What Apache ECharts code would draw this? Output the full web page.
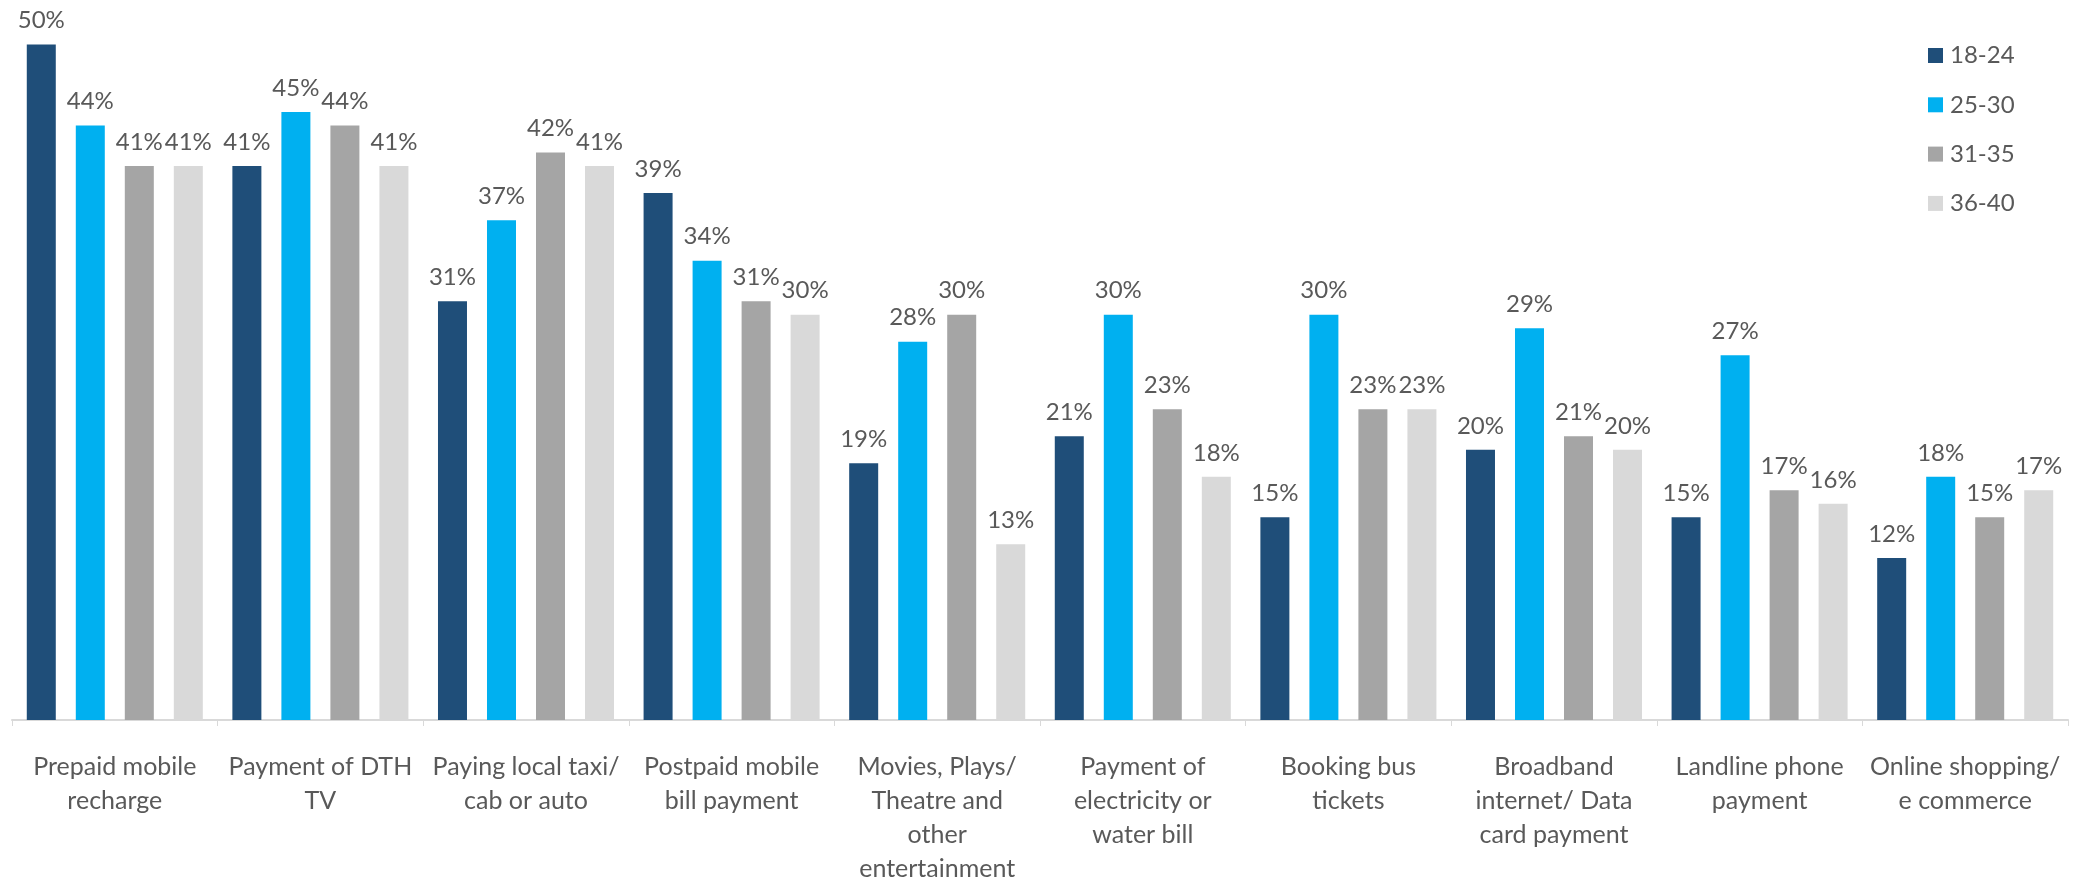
<!DOCTYPE html>
<html>
<head>
<meta charset="utf-8">
<script src="https://cdn.jsdelivr.net/npm/echarts@6/dist/echarts.min.js"></script>
<style>
html,body{margin:0;padding:0;background:#fff;}
#c{width:2087px;height:886px;}
</style>
</head>
<body>
<div id="c"></div>
<script>
const categories = [
  "Prepaid mobile\nrecharge",
  "Payment of DTH\nTV",
  "Paying local taxi/\ncab or auto",
  "Postpaid mobile\nbill payment",
  "Movies, Plays/\nTheatre and\nother\nentertainment",
  "Payment of\nelectricity or\nwater bill",
  "Booking bus\ntickets",
  "Broadband\ninternet/ Data\ncard payment",
  "Landline phone\npayment",
  "Online shopping/\ne commerce"
];
const seriesNames = ["18-24", "25-30", "31-35", "36-40"];
const age18_24 = [50, 41, 31, 39, 19, 21, 15, 20, 15, 12];
const age25_30 = [44, 45, 37, 34, 28, 30, 30, 29, 27, 18];
const age31_35 = [41, 44, 42, 31, 30, 23, 23, 21, 17, 15];
const age36_40 = [41, 41, 41, 30, 13, 18, 23, 20, 16, 17];
const colors = ["#1F4E79", "#00B0F0", "#A5A5A5", "#D9D9D9"];

const allData = [age18_24, age25_30, age31_35, age36_40];
const FONT = "Lato";
const chart = echarts.init(document.getElementById('c'), null, {renderer: 'canvas'});
chart.setOption({
  animation: false,
  backgroundColor: '#ffffff',
  color: colors,
  textStyle: {fontFamily: FONT},
  grid: {left: 12, right: 19, top: 44.5, bottom: 154, containLabel: false},
  legend: {
    orient: 'vertical',
    left: 1923,
    top: 38.5,
    icon: 'rect',
    itemWidth: 15,
    itemHeight: 15,
    itemGap: 25.3,
    textStyle: {fontFamily: FONT, fontSize: 24, color: '#595959', lineHeight: 24, padding: [0,0,0,2]},
    data: seriesNames
  },
  xAxis: {
    type: 'category',
    data: categories,
    axisLine: {show: true, lineStyle: {color: '#D9D9D9', width: 2}},
    axisTick: {show: true, length: 6, lineStyle: {color: '#D9D9D9', width: 1}},
    axisLabel: {
      interval: 0,
      margin: 30,
      fontFamily: FONT,
      fontSize: 25,
      lineHeight: 34,
      color: '#595959',
      align: 'center'
    }
  },
  yAxis: {
    type: 'value',
    min: 0,
    max: 50,
    show: false,
    splitLine: {show: false}
  },
  series: seriesNames.map((name, i) => ({
    name: name,
    type: 'bar',
    data: allData[i],
    barWidth: 29,
    barGap: '69%',
    itemStyle: {color: colors[i]},
    label: {
      show: true,
      position: 'top',
      distance: 12,
      formatter: '{c}%',
      fontFamily: FONT,
      fontSize: 24,
      color: '#595959'
    }
  }))
});
</script>
</body>
</html>
